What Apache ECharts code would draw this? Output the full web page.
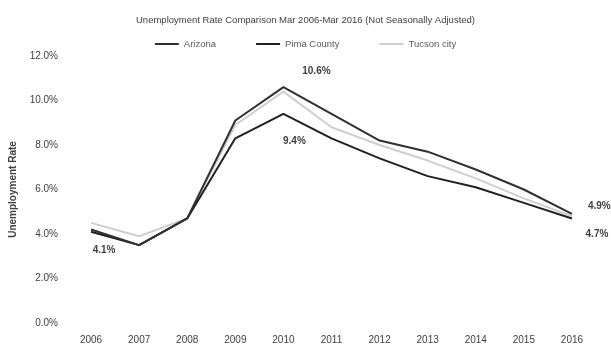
<!DOCTYPE html>
<html>
<head>
<meta charset="utf-8">
<script src="https://cdn.jsdelivr.net/npm/echarts@6/dist/echarts.min.js"></script>
<style>
  html, body { margin: 0; padding: 0; background: #ffffff; }
  #chart { width: 611px; height: 354px; }
</style>
</head>
<body>
<div id="chart"></div>
<script>
// March unemployment rate (%), not seasonally adjusted
const years = ['2006', '2007', '2008', '2009', '2010', '2011', '2012', '2013', '2014', '2015', '2016'];
const arizona = [4.2, 3.5, 4.7, 9.1, 10.6, 9.4, 8.2, 7.7, 6.9, 6.0, 4.9];
const pimaCounty = [4.1, 3.5, 4.7, 8.3, 9.4, 8.3, 7.4, 6.6, 6.1, 5.4, 4.7];
const tucsonCity = [4.5, 3.9, 4.7, 8.9, 10.4, 8.8, 8.0, 7.3, 6.5, 5.6, 4.8];
const yTicks = [0, 2, 4, 6, 8, 10, 12];

const FONT = '"Liberation Sans", Arial, sans-serif';

// which points carry a value label, and where it sits
function labelled(values, marks) {
  return values.map((v, i) => {
    const m = marks[i];
    if (!m) return v;
    return {
      value: v,
      label: {
        show: true,
        position: m.position,
        offset: m.offset,
        formatter: (p) => Number(p.value).toFixed(1) + '%',
        fontFamily: FONT,
        fontSize: 10,
        fontWeight: 'bold',
        color: '#404040'
      }
    };
  });
}

// line without visible markers (markers stay present so labels can render)
function lineSeries(name, data, color, width, z) {
  return {
    name, type: 'line', data,
    symbol: 'circle', symbolSize: 0, showSymbol: true,
    lineStyle: { color, width },
    itemStyle: { color },
    emphasis: { disabled: true },
    z
  };
}

const chart = echarts.init(document.getElementById('chart'), null, { renderer: 'canvas' });

chart.setOption({
  backgroundColor: '#ffffff',
  animation: false,
  title: {
    text: 'Unemployment Rate Comparison Mar 2006-Mar 2016 (Not Seasonally Adjusted)',
    left: 'center',
    top: 10,
    textStyle: { fontFamily: FONT, fontSize: 9.5, fontWeight: 'normal', color: '#404040' }
  },
  legend: {
    top: 34,
    left: 'center',
    itemWidth: 24,
    itemHeight: 2,
    itemGap: 40,
    icon: 'rect',
    textStyle: { fontFamily: FONT, fontSize: 9.5, color: '#595959' },
    data: ['Arizona', 'Pima County', 'Tucson city']
  },
  grid: { left: 67, right: 15, top: 56, bottom: 31 },
  xAxis: {
    type: 'category',
    data: years,
    boundaryGap: true,
    axisLine: { show: false },
    axisTick: { show: false },
    axisLabel: { fontFamily: FONT, fontSize: 10, color: '#404040', margin: 12 }
  },
  yAxis: {
    type: 'value',
    min: yTicks[0],
    max: yTicks[yTicks.length - 1],
    interval: 2,
    name: 'Unemployment Rate',
    nameLocation: 'middle',
    nameGap: 48,
    nameTextStyle: { fontFamily: FONT, fontSize: 10, fontWeight: 'bold', color: '#404040' },
    splitLine: { show: false },
    axisLine: { show: false },
    axisTick: { show: false },
    axisLabel: {
      fontFamily: FONT, fontSize: 10, color: '#404040', margin: 9,
      formatter: (v) => v.toFixed(1) + '%'
    }
  },
  series: [
    lineSeries('Tucson city', tucsonCity, '#cfcfcf', 2, 1),
    lineSeries('Arizona', labelled(arizona, {
      4: { position: 'top', offset: [33, -6] },
      10: { position: 'right', offset: [11, -8] }
    }), '#303030', 2, 3),
    lineSeries('Pima County', labelled(pimaCounty, {
      0: { position: 'bottom', offset: [13, 8] },
      4: { position: 'bottom', offset: [11, 17] },
      10: { position: 'bottom', offset: [25, 6] }
    }), '#202020', 2, 2)
  ]
});
</script>
</body>
</html>
